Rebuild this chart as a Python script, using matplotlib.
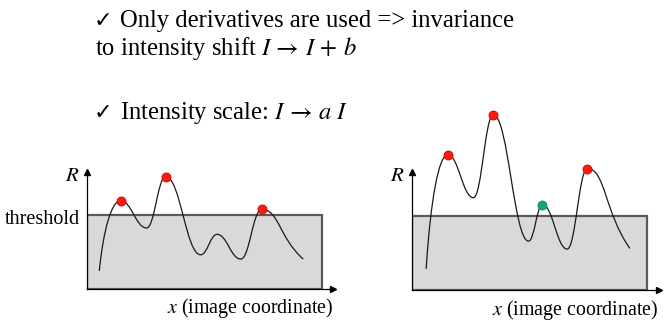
import matplotlib
matplotlib.use("Agg")
import matplotlib.pyplot as plt
from matplotlib.path import Path
from matplotlib.patches import PathPatch, Rectangle

plt.rcParams['font.family'] = ['Liberation Serif', 'DejaVu Sans']
plt.rcParams['mathtext.fontset'] = 'stix'

# response R along x (box spans x = 0..100, threshold at R = 50)
threshold = 50
x_left = [5.1, 14.2, 25.3, 33.4, 48.3, 55.3, 65.4, 74.3, 92.0]
r_left = [12.4, 59.8, 41.4, 76.1, 23.3, 37.1, 20.4, 53.9, 20.4]
x_right = [5.9, 15.1, 26.0, 34.5, 49.5, 55.4, 65.9, 74.5, 92.6]
r_right = [14.3, 90.8, 62.0, 117.5, 32.9, 57.3, 27.6, 81.5, 28.0]
# detected corners: index into the curve points, and marker colour
peaks_left = [1, 3, 7]
colors_left = ['red', 'red', 'red']
peaks_right = [1, 3, 5, 7]
colors_right = ['red', 'red', 'green', 'red']

check = "\u2713"
line1 = "Only derivatives are used => invariance"
line2 = r"to intensity shift $I\,\rightarrow\,I\,+\,b$"
line3 = r"Intensity scale: $I\,\rightarrow\,a\ I$"

dot_face = {'red': '#ff1a0a', 'green': '#17a673'}
dot_edge = {'red': '#d40000', 'green': '#0f8a5c'}


def curve_path(xs, rs):
    # cubic bezier through the extrema, flat tangents at peaks/valleys
    verts = [(xs[0], rs[0])]
    codes = [Path.MOVETO]
    n = len(xs)
    for i in range(n - 1):
        x0, y0, x1, y1 = xs[i], rs[i], xs[i + 1], rs[i + 1]
        dx, dy = x1 - x0, y1 - y0
        if i == 0:
            c1 = (x0 + 0.2 * dx, y0 + 0.6 * dy)
        else:
            c1 = (x0 + 0.42 * dx, y0)
        if i == n - 2:
            c2 = (x1 - 0.6 * dx, y1 - 0.45 * dy)
        else:
            c2 = (x1 - 0.42 * dx, y1)
        verts += [c1, c2, (x1, y1)]
        codes += [Path.CURVE4] * 3
    return Path(verts, codes)


def panel(ax, xs, rs, peaks, colors, xmax, xlab_end):
    ax.set_xlim(0, xmax)
    ax.set_ylim(0, 79)
    ax.add_patch(Rectangle((0, 0), 100, threshold, facecolor='#d9d9d9',
                           edgecolor='#5a5a5a', lw=1.6, zorder=1))
    ax.add_patch(PathPatch(curve_path(xs, rs), facecolor='none',
                           edgecolor='#1a1a1a', lw=0.9, zorder=3, clip_on=False))
    for i, c in zip(peaks, colors):
        ax.plot(xs[i], rs[i], 'o', ms=6.5, color=dot_face[c], mec=dot_edge[c],
                mew=0.6, zorder=4, clip_on=False)
    for s in ['top', 'right']:
        ax.spines[s].set_visible(False)
    for s in ['left', 'bottom']:
        ax.spines[s].set_linewidth(0.9)
        ax.spines[s].set_color('black')
    ax.set_xticks([])
    ax.set_yticks([])
    ax.plot(1, 0, '>k', ms=4, transform=ax.transAxes, clip_on=False)
    ax.plot(0, 1, '^k', ms=4, transform=ax.transAxes, clip_on=False)
    ax.text(-9.5, 73, '$R$', fontsize=15, ha='left', va='baseline')
    ax.text(xlab_end, -16.3, '$x$ (image coordinate)', fontsize=14.3,
            ha='right', va='baseline')
    ax.patch.set_visible(False)


fig = plt.figure(figsize=(6.67, 3.21), dpi=100)

ax1 = fig.add_axes([87.3 / 667, 31.7 / 321, 245.7 / 667, 117 / 321])
panel(ax1, x_left, r_left, peaks_left, colors_left, 104.7, 104.7)
ax1.text(-3, 44, 'threshold', fontsize=14.5, ha='right', va='baseline')

ax2 = fig.add_axes([412.3 / 667, 30.7 / 321, 247 / 667, 118 / 321])
panel(ax2, x_right, r_right, peaks_right, colors_right, 105.1, 104.5)

fig.text(94 / 667, 1 - 27 / 321, check, fontsize=16, va='baseline',
         family='DejaVu Sans', weight='bold')
fig.text(120 / 667, 1 - 27 / 321, line1, fontsize=17.7, va='baseline')
fig.text(95 / 667, 1 - 55 / 321, line2, fontsize=17.7, va='baseline')
fig.text(94 / 667, 1 - 119 / 321, check, fontsize=16, va='baseline',
         family='DejaVu Sans', weight='bold')
fig.text(120 / 667, 1 - 119 / 321, line3, fontsize=17.7, va='baseline')

fig.savefig('out.png', dpi=100)
